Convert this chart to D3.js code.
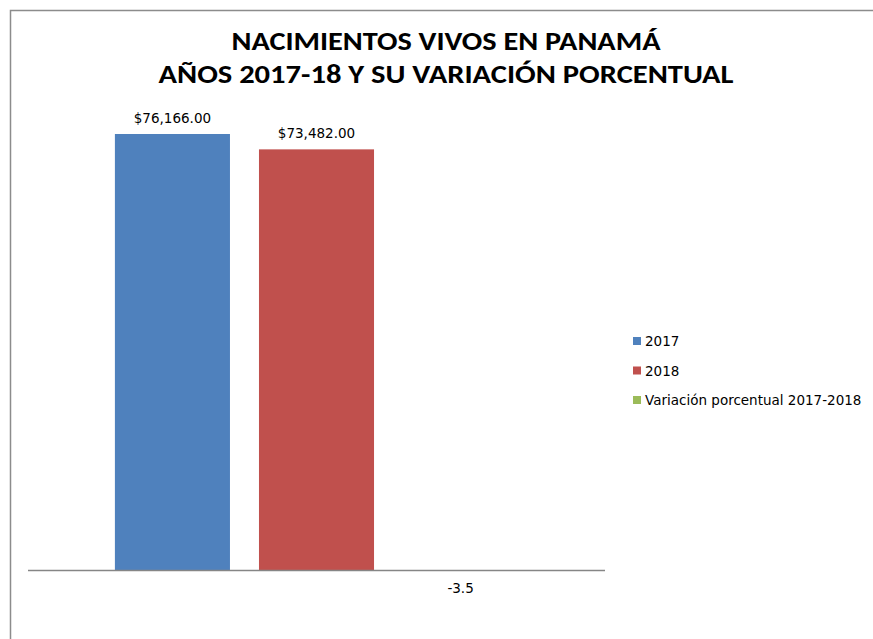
<!DOCTYPE html>
<html>
<head>
<meta charset="utf-8">
<script src="https://cdn.jsdelivr.net/npm/d3@7"></script>
<style>
  body { margin: 0; background: #fff; }
  svg { display: block; }
  text.title { font-family: Carlito, Calibri, "Open Sans", sans-serif; }
  text.small { font-family: "DejaVu Sans", Verdana, sans-serif; }
</style>
</head>
<body>
<svg id="chart" width="873" height="639"></svg>
<script>
const titleLines = ["NACIMIENTOS VIVOS EN PANAMÁ", "AÑOS 2017-18 Y SU VARIACIÓN PORCENTUAL"];
const categories = ["Nacimientos vivos"];
const seriesNames = ["2017", "2018", "Variación porcentual 2017-2018"];
const seriesValues = [76166, 73482, -3.5];
const seriesLabels = ["$76,166.00", "$73,482.00", "-3.5"];
const seriesColors = ["#4F81BD", "#C0504D", "#9BBB59"];

const svg = d3.select("#chart");

// chart border
svg.append("path")
  .attr("d", "M10.5,639 L10.5,10.5 L873,10.5")
  .attr("fill", "none").attr("stroke", "#8c8c8c").attr("stroke-width", 1.5);

// title
const titleW = [429, 575];
svg.selectAll("text.title").data(titleLines).join("text")
  .attr("class", "title")
  .attr("x", 446).attr("y", (d, i) => 49.5 + i * 33.5)
  .attr("text-anchor", "middle")
  .attr("font-size", 25.5).attr("font-weight", "bold")
  .attr("fill", "#000")
  .attr("textLength", (d, i) => titleW[i])
  .attr("lengthAdjust", "spacingAndGlyphs")
  .text(d => d);

// scales
const plotLeft = 28, plotRight = 605, baseY = 570;
const x0 = d3.scaleBand().domain(categories).range([plotLeft, plotRight])
  .paddingInner(0).paddingOuter(0.1678);
const x1 = d3.scaleBand().domain(seriesNames).range([0, x0.bandwidth()])
  .paddingInner(29 / 144).paddingOuter(0.1);
const y = d3.scaleLinear().domain([0, 80000]).range([baseY, 112.05]);

const data = seriesNames.map((s, i) => ({ cat: categories[0], name: s, value: seriesValues[i], label: seriesLabels[i], color: seriesColors[i] }));

const g = svg.append("g");
g.selectAll("rect.bar").data(data).join("rect")
  .attr("class", "bar")
  .attr("x", d => x0(d.cat) + x1(d.name))
  .attr("width", x1.bandwidth())
  .attr("y", d => Math.min(y(d.value), y(0)))
  .attr("height", d => Math.abs(y(d.value) - y(0)))
  .attr("fill", d => d.color);

// data labels
g.selectAll("text.lbl").data(data).join("text")
  .attr("class", "lbl small")
  .attr("x", d => x0(d.cat) + x1(d.name) + x1.bandwidth() / 2)
  .attr("y", d => d.value >= 0 ? y(d.value) - 11 : y(0) + 23)
  .attr("text-anchor", "middle")
  .attr("font-size", 13.5).attr("fill", "#000")
  .text(d => d.label);

// horizontal axis line
svg.append("line")
  .attr("x1", plotLeft).attr("x2", plotRight)
  .attr("y1", y(0) + 0.5).attr("y2", y(0) + 0.5)
  .attr("stroke", "#868686").attr("stroke-width", 1.5);

// legend
const legend = svg.append("g").attr("transform", "translate(633,0)");
const li = legend.selectAll("g").data(data).join("g")
  .attr("transform", (d, i) => `translate(0,${341 + i * 29.5})`);
li.append("rect").attr("x", 0).attr("y", -4).attr("width", 8).attr("height", 8)
  .attr("fill", d => d.color);
li.append("text").attr("class", "small").attr("x", 12).attr("y", 5)
  .attr("font-size", 13.5).attr("fill", "#000")
  .text(d => d.name);
</script>
</body>
</html>
